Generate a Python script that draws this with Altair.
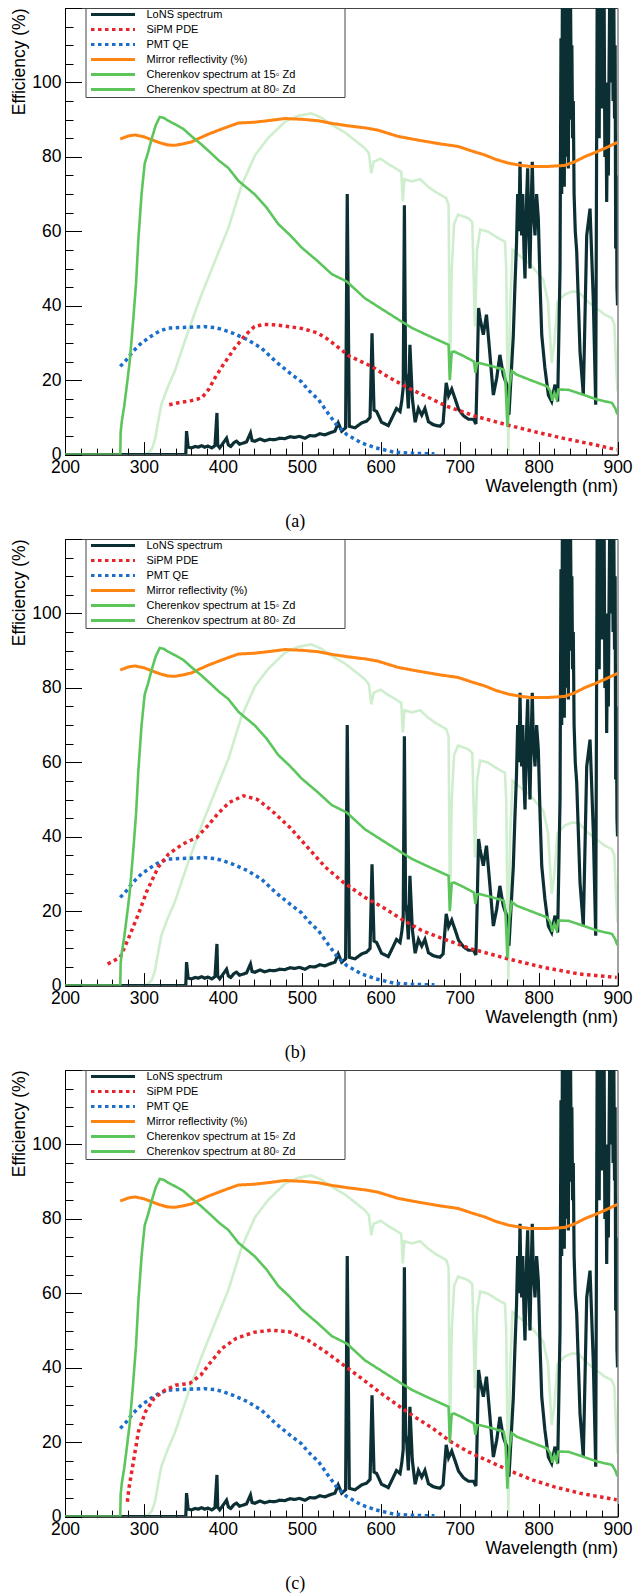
import altair as alt
import pandas as pd

# ---------------- data ----------------
SERIES = ["LoNS spectrum", "SiPM PDE", "PMT QE", "Mirror reflectivity (%)",
          "Cherenkov spectrum at 15\u25e6 Zd", "Cherenkov spectrum at 80\u25e6 Zd"]

lons = [(200, 0), (353, 0), (354, 6.3), (356, 2.0), (360, 1.8), (365, 2.2), (369, 2.0), (373, 2.4),
        (377, 2.0), (381, 2.3), (386, 1.8), (390, 2.4), (392.5, 11.2), (393.5, 2.5), (396, 1.8),
        (400, 3.0), (404.7, 4.4), (407, 2.6), (410, 2.2), (414, 3.2), (417.4, 3.6), (421, 2.8),
        (425.8, 3.1), (430, 3.4), (435, 5.8), (437, 3.8), (440.6, 3.6), (447, 4.2), (453, 3.7),
        (459, 4.1), (466, 4.0), (472, 4.4), (478.6, 4.3), (485, 4.8), (491.3, 4.6), (497, 4.9),
        (504, 4.4), (510, 5.1), (516.7, 5.0), (523, 5.6), (529.3, 5.3), (535, 5.8), (542, 6.3),
        (546.2, 8.5), (550.5, 6.3), (555.5, 7.2), (557.6, 70), (560.2, 7.6), (567.4, 7.2),
        (575.8, 8.5), (582.2, 9.0), (586.5, 10), (589, 32.6), (591.5, 12), (594.8, 11.6),
        (601, 8.7), (609.6, 7.8), (616, 10.6), (620, 12.4), (624.5, 11.6), (626.6, 14.3),
        (628.5, 18), (630, 67), (631.5, 22), (633, 19.7), (635, 12.4), (637, 29.5), (640, 15.2),
        (643.6, 8.7), (647.8, 12.4), (652, 10.6), (656, 12.4), (660.5, 8.8), (667, 8.0),
        (675, 7.6), (679, 8.5), (683, 19.3), (686, 15.8), (690, 17.6), (694.4, 14.9),
        (698.6, 12.2), (705, 10.4), (711.3, 9.5), (717.6, 9.5), (720.6, 8.2), (722, 20),
        (724, 39.4), (725.8, 36.7), (730, 32.2), (734, 37.6), (738.4, 26.8), (742.7, 16),
        (746.9, 20.5), (751, 26.8), (755.3, 21.4), (759.6, 18.8), (762.5, 10.7), (768, 32),
        (770, 45), (772, 56.3), (773.5, 70), (775, 60), (776.5, 78.7), (777.5, 65), (778.6, 58.9),
        (780, 70), (781.5, 55), (782.8, 47.3), (784, 60), (785, 70), (786.2, 76.9), (787.5, 62),
        (789.1, 50), (790.5, 65), (792, 78.7), (793.5, 65), (795.5, 58.9), (797.5, 70),
        (799.7, 63.4), (802, 45), (804, 32.2), (808, 23.3), (812.4, 16), (816.6, 14.3),
        (820.8, 18.8), (824.2, 14.3), (827.2, 50), (828.4, 111.9), (829.3, 70), (830.2, 125),
        (831, 85), (831.8, 125), (832.6, 72), (833.4, 125), (834.2, 80), (835, 125), (835.8, 95),
        (836.6, 125), (837.7, 76.9), (838.6, 120), (839.5, 90), (840.4, 125), (841.3, 100),
        (842.2, 110), (843.1, 85), (844, 95), (845, 70), (846.5, 60), (848.3, 54.6),
        (852.5, 27.7), (856.7, 16), (861, 58.9), (865.2, 66.1), (869.4, 41.1), (872.4, 13.4),
        (873.5, 80), (874.3, 125), (875.2, 95), (876, 125), (876.8, 85), (877.6, 125),
        (878.5, 100), (879.3, 125), (880.2, 93), (881, 125), (882, 110), (883, 125), (884, 80),
        (885.2, 100), (886.3, 67.9), (887.5, 95), (888.4, 75), (889.3, 103.8), (890.2, 125),
        (891, 100), (891.8, 125), (892.7, 105), (893.5, 125), (894.4, 95), (895.3, 125),
        (896.2, 90.3), (897, 110), (897.7, 55.4), (898.6, 75), (899.3, 45), (900, 40.1)]

sipm_a = [(332, 13.4), (345, 14), (360, 14.5), (373, 15.2), (382, 17.5), (390, 20.6), (400, 24),
          (415, 28.6), (428, 32), (440, 34.4), (452, 35), (464, 34.9), (480, 34.5), (500, 33.9),
          (520, 32.7), (533.6, 30.9), (545, 29), (560, 26.5), (588.5, 23.7), (610, 20.8),
          (635, 17.9), (660, 15.4), (683.5, 13), (720, 10.3), (761.7, 7.9), (800, 5.9),
          (833, 4.3), (870, 2.7), (899, 1.3)]

sipm_b = [(254, 5.8), (270, 7.6), (281, 13), (293, 19.2), (304, 25.5), (318, 31.8), (331, 35.3),
          (349, 38), (367, 39.8), (381, 43), (395, 46.5), (408, 49.2), (426, 51), (444, 50),
          (462, 47), (485, 42.5), (508, 37), (530, 31.8), (553, 27.7), (580, 23.7), (603, 21),
          (630, 17.4), (652, 14.8), (680, 12.5), (716, 9.8), (761, 7.2), (806, 4.9), (852, 3.1),
          (899, 2.2)]

sipm_c = [(279, 4), (281, 7.6), (286, 13.9), (293, 22.8), (302, 28.2), (313, 31.8), (327, 34),
          (340, 35.3), (358, 35.8), (372, 38), (385, 41.6), (399, 45.2), (417, 47.9), (439, 49.5),
          (462, 50.1), (485, 49.6), (508, 47.4), (530, 44.3), (553, 40.7), (576, 37.1),
          (598, 33.5), (621, 30), (643, 26.8), (666, 23.7), (689, 20.1), (711, 17.4), (738, 14.8),
          (766, 12.1), (793, 9.8), (820, 8), (852, 6.3), (899, 4.5)]

pmt = [(270, 23.7), (278, 25.5), (286, 27.7), (297, 30), (309, 31.8), (320, 33.2), (331, 34),
       (354, 34.2), (376, 34.4), (390, 34.1), (400, 33.6), (413, 32.6), (431, 30.9), (449, 28.6),
       (467, 25), (485, 21.9), (500, 19.5), (508, 17.4), (521, 14.8), (533, 11.2), (544, 8),
       (557, 5.4), (576, 3.1), (594, 1.8), (616, 0.7), (643, 0.3), (668, 0.2)]

mirror = [(270, 84.8), (280, 85.6), (288.5, 85.9), (300, 85.4), (309.7, 84.6), (320, 83.8),
          (330, 83.2), (339, 83.1), (350, 83.5), (360, 84), (370, 85), (381.6, 86.1),
          (400, 87.6), (419.7, 89.1), (440, 89.3), (460, 89.8), (478.6, 90.3), (500, 90.1),
          (521, 89.7), (538, 89), (560, 88.3), (580, 87.8), (596, 87.2), (622, 85.5),
          (650, 84.4), (675, 83.5), (698, 82.8), (715, 81.6), (732, 80.5), (746, 79.3),
          (762, 78.3), (778, 77.7), (791, 77.4), (810, 77.4), (833, 77.7), (845, 78.6),
          (859, 80.1), (872, 81.2), (884, 82.3), (900, 83.9)]

ch15 = [(200, 0), (270, 0), (270.5, 6), (272, 9), (275, 13), (278, 18), (282, 25), (286, 35),
        (290, 46), (293, 58), (297, 70), (301, 78.3), (305, 81), (310, 85), (315, 88.5),
        (320, 90.7), (325, 90.5), (330, 89.8), (340, 88.7), (350, 87.5), (360, 85.6),
        (373, 83.3), (385, 81), (395, 79), (407, 77), (420, 73.5), (440, 70), (455, 66.5),
        (470, 62), (485, 59), (500, 55.6), (520, 52), (538, 48.5), (557, 46.5), (580, 42),
        (600, 39.3), (626, 35.8), (640, 34), (660, 32), (686, 29.5), (687.5, 20), (690, 27.5),
        (693, 27.7), (705, 26.5), (718, 25), (720, 22), (722, 24.5), (725, 24.6), (740, 23.8),
        (756, 22.8), (758, 20), (760.5, 7.5), (763, 18), (766, 22.5), (772, 21.5), (790, 20),
        (811, 18.3), (815, 17), (817.5, 14.5), (820, 16.5), (823, 15), (825, 17.5), (838, 17.4),
        (855, 16.2), (874, 14.8), (893, 13.9), (897, 12.5), (900, 10.8)]

ch80 = [(200, 0), (300, 0), (305, 0.4), (310, 1.5), (314, 4), (318, 8.9), (322, 13.4),
        (330, 18), (339, 22.4), (356, 33.1), (373, 43), (390, 52), (407, 60.9), (424, 72.5),
        (441, 80.5), (457, 85), (479, 89.5), (495, 91), (512, 91.7), (525, 90.5), (538, 88.6),
        (555, 86.5), (570, 84), (580, 82.3), (585, 81), (588, 75.6), (591, 78.7), (600, 79.5),
        (610, 78), (622, 76.5), (626, 76), (628, 68), (630, 74), (639, 73.4), (650, 74),
        (660, 72), (670, 70.5), (683, 68.9), (686, 67), (687.7, 20.6), (690, 50), (693, 62),
        (698, 64.5), (705, 64), (711, 63.5), (716, 62.5), (719.4, 34.4), (722, 55), (726, 60.5),
        (736, 59.9), (750, 58), (757.4, 57.2), (759, 50), (761.7, 0.9), (764, 40), (767, 55),
        (774.5, 53.7), (790, 51), (800, 48.5), (806, 47), (812, 41), (816.6, 24.6), (820, 30),
        (824, 41), (833, 43), (842, 43.8), (850, 43.8), (858.5, 42), (863, 41), (884, 37.6),
        (892.6, 36.7), (896, 35), (898, 25), (900, 17)]

X_LABELS = [200, 300, 400, 500, 600, 700, 800, 900]
Y_LABELS = [0, 20, 40, 60, 80, 100]
X_MINOR = list(range(200, 901, 20))
Y_MINOR = list(range(0, 121, 5))
CAPTIONS = ["(a)", "(b)", "(c)"]

# ---------------- styles ----------------
COLORS = ["#0c2f34", "#e8232b", "#1b6ec9", "#ff8412", "#5cc65c", "#5cc65c"]
DASHES = [[1, 0], [3.5, 3.5], [3.5, 3.5], [1, 0], [1, 0], [1, 0]]
WIDTHS = [3.2, 3.5, 3.5, 3, 2.6, 2.6]
OPAC = [1, 1, 1, 1, 1, 0.3]
W, H = 552.5, 446.6
FONT = "Liberation Sans"
PAD = "\u2800" * 6

xs = alt.Scale(domain=[200, 900], nice=False, zero=False)
ys = alt.Scale(domain=[0, 120], nice=False, zero=False)

legend = alt.Legend(title=None, orient="none", legendX=20.5, legendY=0,
                    symbolType="M-11,0H11", symbolSize=16, symbolStrokeWidth=3,
                    labelFontSize=11, labelFont=FONT, labelColor="black",
                    rowPadding=2.0, padding=1, symbolOffset=21, labelOffset=28,
                    strokeColor="#444", fillColor="white", labelLimit=0,
                    labelExpr="datum.label + '" + PAD + "'")


def panel(sipm, caption):
    rows = []
    order = [(5, ch80), (0, lons), (3, mirror), (2, pmt), (1, sipm), (4, ch15)]
    for k, pts in order:
        for x, v in pts:
            rows.append({"series": SERIES[k], "nm": x, "val": v,
                         "sw": WIDTHS[k], "op": OPAC[k]})
    df = pd.DataFrame(rows)

    lines = alt.Chart(df).mark_line(clip=True, strokeCap="butt").encode(
        x=alt.X("nm:Q", scale=xs, axis=alt.Axis(
            values=X_LABELS, tickSize=0, labelPadding=4, grid=False, labelFlush=False,
            title="Wavelength (nm)", titleAnchor="end", titlePadding=1,
            domainColor="black", domainWidth=1)),
        y=alt.Y("val:Q", scale=ys, axis=alt.Axis(
            values=Y_LABELS, tickSize=0, labelPadding=4, grid=False, labelFlush=False,
            title="Efficiency (%)", titleAnchor="end", titlePadding=3,
            domainColor="black", domainWidth=1)),
        color=alt.Color("series:N", scale=alt.Scale(domain=SERIES, range=COLORS), legend=legend),
        strokeDash=alt.StrokeDash("series:N", scale=alt.Scale(domain=SERIES, range=DASHES), legend=legend),
        strokeWidth=alt.StrokeWidth("sw:Q", scale=None),
        opacity=alt.Opacity("op:Q", scale=None),
    )

    frame = pd.DataFrame({"nm": [200, 900], "val": [0, 120]})

    def ticks(xv, yv, xl, yl):
        return alt.Chart(frame).mark_point(opacity=0).encode(
            x=alt.X("nm:Q", scale=xs, axis=alt.Axis(
                orient="top", offset=-H, values=xv, tickSize=xl, labels=False,
                domain=False, title=None, grid=False, tickColor="black", tickWidth=1)),
            y=alt.Y("val:Q", scale=ys, axis=alt.Axis(
                orient="right", offset=-W, values=yv, tickSize=yl, labels=False,
                domain=False, title=None, grid=False, tickColor="black", tickWidth=1)),
        )

    minor = ticks(X_MINOR, Y_MINOR, 6.5, 8)
    major = ticks(X_LABELS, [0, 20, 40, 60, 80, 100, 120], 13, 16.5)

    return alt.layer(lines, minor, major).resolve_axis(
        x="independent", y="independent"
    ).properties(
        width=W, height=H,
        title=alt.Title(caption, orient="bottom", anchor="middle", font="Liberation Serif",
                        fontSize=18, fontWeight="normal", offset=18, dx=-46, color="black"),
    )


chart = alt.vconcat(
    panel(sipm_a, CAPTIONS[0]),
    panel(sipm_b, CAPTIONS[1]),
    panel(sipm_c, CAPTIONS[2]),
    spacing=84, bounds="flush",
).resolve_legend(
    color="independent", strokeDash="independent"
).properties(
    padding={"left": 10, "top": 4, "right": 0, "bottom": 0}
).configure(
    background="white"
).configure_view(
    stroke="#444", strokeWidth=1
).configure_axis(
    labelFont=FONT, labelFontSize=17.5, labelColor="black",
    titleFont=FONT, titleFontSize=17.5, titleFontWeight="normal", titleColor="black",
)

chart.save("out.html", embed_options={"renderer": "svg", "actions": False})
